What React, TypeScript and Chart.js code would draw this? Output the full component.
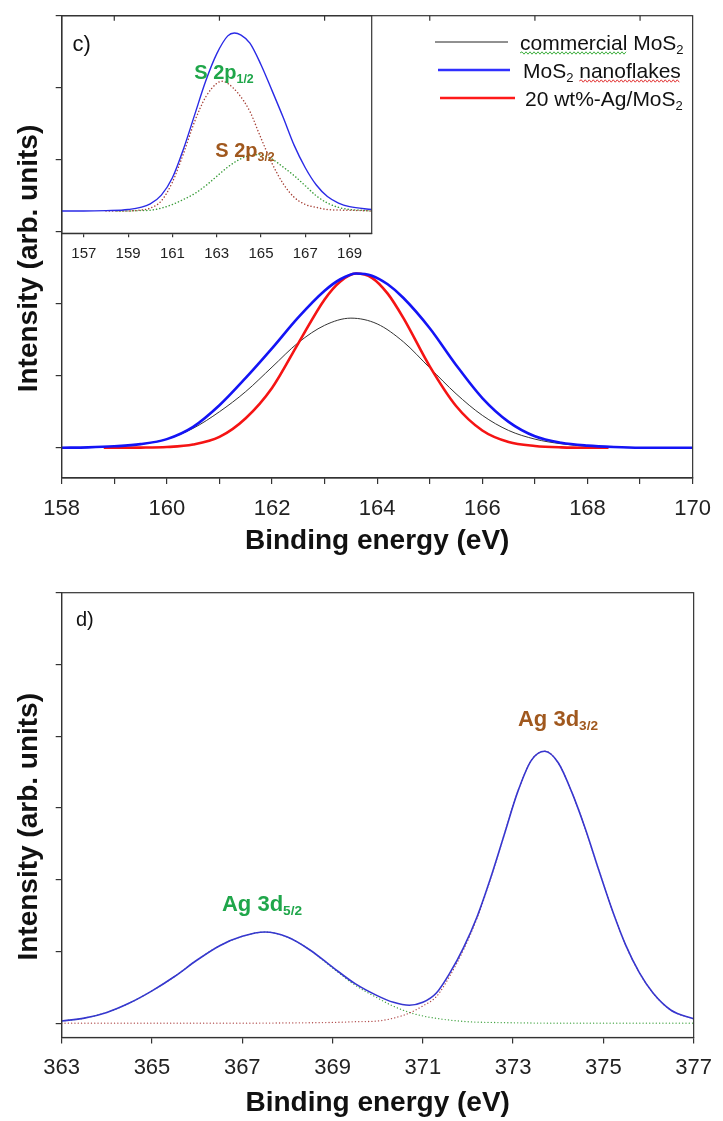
import React, { useEffect, useRef } from "react";
import { Chart, registerables } from "chart.js";

Chart.register(...registerables);

const FONT = '"Liberation Sans", Arial, Helvetica, sans-serif';
const AXIS = "#333333";

// ---------- Panel c (main): S 2p region ----------
const C_X_TICKS = [158, 159, 160, 161, 162, 163, 164, 165, 166, 167, 168, 169, 170];
const C_TOP_TICKS = [159, 161, 163, 165, 167, 169];
const C_Y_TICKS = [0, 1, 2, 3, 4, 5, 6];

const C_X_BLUE = [158, 158.5, 159, 159.5, 160, 160.5, 161, 161.5, 162, 162.5, 163, 163.3, 163.6, 163.9, 164.2, 164.5, 165, 165.5, 166, 166.5, 167, 167.5, 168, 168.5, 169, 170];
const C_Y_BLUE = [0, 0.005, 0.02, 0.05, 0.12, 0.29, 0.59, 0.97, 1.38, 1.81, 2.18, 2.34, 2.42, 2.39, 2.27, 2.08, 1.66, 1.15, 0.69, 0.36, 0.16, 0.07, 0.03, 0.01, 0, 0];

const C_X_BLACK = [158, 158.5, 159, 159.5, 160, 160.5, 161, 161.5, 162, 162.5, 163, 163.5, 164, 164.5, 165, 165.5, 166, 166.5, 167, 167.5, 168, 168.5, 169, 170];
const C_Y_BLACK = [0, 0.005, 0.02, 0.05, 0.12, 0.27, 0.50, 0.78, 1.12, 1.46, 1.70, 1.80, 1.72, 1.47, 1.11, 0.75, 0.45, 0.24, 0.12, 0.055, 0.02, 0.007, 0, 0];

const C_X_RED = [158.8, 159.5, 160, 160.5, 161, 161.5, 162, 162.5, 163, 163.3, 163.6, 163.9, 164.2, 164.5, 165, 165.5, 166, 166.5, 167, 167.5, 168, 168.4];
const C_Y_RED = [0, 0.002, 0.01, 0.045, 0.15, 0.41, 0.83, 1.45, 2.06, 2.31, 2.42, 2.36, 2.14, 1.80, 1.13, 0.58, 0.24, 0.08, 0.025, 0.005, 0, 0];

// ---------- Inset: fitted S 2p components ----------
const IN_X_TICKS = [157, 159, 161, 163, 165, 167, 169];

const IN_X_SUM = [156, 157, 158, 159, 160, 160.5, 161, 161.5, 162, 162.5, 163, 163.5, 163.8, 164.1, 164.5, 165, 165.5, 166, 166.5, 167, 167.5, 168, 168.5, 169, 170];
const IN_Y_SUM = [0, 0, 0.005, 0.02, 0.10, 0.22, 0.46, 0.86, 1.33, 1.80, 2.18, 2.43, 2.47, 2.44, 2.33, 2.03, 1.67, 1.30, 0.91, 0.60, 0.36, 0.20, 0.11, 0.06, 0.02];

const IN_X_P12 = [158, 159, 159.5, 160, 160.5, 161, 161.5, 162, 162.5, 163, 163.25, 163.5, 164, 164.5, 165, 165.5, 166, 166.5, 167, 167.5, 168, 169, 170];
const IN_Y_P12 = [0, 0, 0.01, 0.04, 0.14, 0.40, 0.80, 1.24, 1.58, 1.77, 1.80, 1.77, 1.62, 1.38, 1.01, 0.66, 0.38, 0.19, 0.09, 0.05, 0.02, 0.01, 0];

const IN_X_P32 = [158.5, 159, 159.5, 160, 160.5, 161, 161.5, 162, 162.5, 163, 163.5, 164, 164.5, 164.9, 165.5, 166, 166.5, 167, 167.5, 168, 168.5, 169, 169.5, 170];
const IN_Y_P32 = [0, 0, 0.005, 0.01, 0.04, 0.09, 0.16, 0.24, 0.35, 0.48, 0.61, 0.71, 0.77, 0.78, 0.72, 0.61, 0.49, 0.35, 0.21, 0.11, 0.05, 0.02, 0.01, 0];

// ---------- Panel d: Ag 3d region ----------
const D_X_TICKS = [363, 365, 367, 369, 371, 373, 375, 377];
const D_Y_TICKS = [0, 1, 2, 3, 4, 5, 6];

const D_X_SUM = [363, 363.5, 364, 364.5, 365, 365.5, 366, 366.5, 367, 367.5, 368, 368.5, 369, 369.5, 370, 370.35, 370.7, 371, 371.3, 371.6, 371.9, 372.2, 372.5, 372.8, 373.1, 373.4, 373.7, 374, 374.3, 374.6, 374.9, 375.2, 375.5, 375.8, 376.1, 376.5, 377];
const D_Y_SUM = [0.03, 0.07, 0.15, 0.28, 0.45, 0.65, 0.88, 1.08, 1.21, 1.27, 1.20, 1.02, 0.78, 0.55, 0.38, 0.29, 0.25, 0.29, 0.42, 0.70, 1.05, 1.48, 2.02, 2.62, 3.22, 3.66, 3.79, 3.63, 3.22, 2.71, 2.13, 1.57, 1.08, 0.70, 0.42, 0.18, 0.06];

const D_X_52 = [363, 363.5, 364, 364.5, 365, 365.5, 366, 366.5, 367, 367.5, 368, 368.5, 369, 369.5, 370, 370.3, 370.7, 371, 371.5, 372, 372.5, 373, 374, 375, 376, 377];
const D_Y_52 = [0.03, 0.07, 0.15, 0.28, 0.45, 0.65, 0.88, 1.08, 1.21, 1.27, 1.20, 1.02, 0.77, 0.53, 0.35, 0.25, 0.15, 0.10, 0.05, 0.02, 0.01, 0.005, 0, 0, 0, 0];

const D_X_32 = [363, 364, 365, 366, 367, 368, 369, 369.5, 370, 370.35, 370.7, 371, 371.3, 371.6, 371.9, 372.2, 372.5, 372.8, 373.1, 373.4, 373.7, 374, 374.3, 374.6, 374.9, 375.2, 375.5, 375.8, 376.1, 376.5, 377];
const D_Y_32 = [0, 0, 0, 0, 0, 0.003, 0.01, 0.02, 0.03, 0.07, 0.14, 0.24, 0.37, 0.66, 1.02, 1.46, 2.01, 2.62, 3.22, 3.66, 3.79, 3.63, 3.22, 2.71, 2.13, 1.57, 1.08, 0.70, 0.42, 0.18, 0.06];

type Part = { t: string; sub?: boolean };

const LEGEND_PARTS: Part[][] = [
  [{ t: "commercial MoS" }, { t: "2", sub: true }],
  [{ t: "MoS" }, { t: "2", sub: true }, { t: " nanoflakes" }],
  [{ t: "20 wt%-Ag/MoS" }, { t: "2", sub: true }],
];
const LABEL_S12: Part[] = [{ t: "S 2p" }, { t: "1/2", sub: true }];
const LABEL_S32: Part[] = [{ t: "S 2p" }, { t: "3/2", sub: true }];
const LABEL_AG52: Part[] = [{ t: "Ag 3d" }, { t: "5/2", sub: true }];
const LABEL_AG32: Part[] = [{ t: "Ag 3d" }, { t: "3/2", sub: true }];

const pts = (xs: number[], ys: number[]) => xs.map((x, i) => ({ x, y: ys[i] }));

function partFont(p: Part, size: number, weight: string) {
  return `${weight} ${p.sub ? size * 0.62 : size}px ${FONT}`;
}
function richWidth(ctx: CanvasRenderingContext2D, parts: Part[], size: number, weight: string) {
  let w = 0;
  for (const p of parts) {
    ctx.font = partFont(p, size, weight);
    w += ctx.measureText(p.t).width;
  }
  return w;
}
function drawRich(ctx: CanvasRenderingContext2D, parts: Part[], x: number, baseline: number, size: number, weight: string, color: string, align: "left" | "center") {
  ctx.save();
  ctx.fillStyle = color;
  ctx.textAlign = "left";
  ctx.textBaseline = "alphabetic";
  const total = richWidth(ctx, parts, size, weight);
  let cx = align === "center" ? x - total / 2 : x;
  for (const p of parts) {
    ctx.font = partFont(p, size, weight);
    ctx.fillText(p.t, cx, p.sub ? baseline + size * 0.2 : baseline);
    cx += ctx.measureText(p.t).width;
  }
  ctx.restore();
  return total;
}
function squiggle(ctx: CanvasRenderingContext2D, x0: number, x1: number, y: number, color: string) {
  ctx.save();
  ctx.strokeStyle = color;
  ctx.lineWidth = 1;
  ctx.beginPath();
  let up = true;
  ctx.moveTo(x0, y);
  for (let x = x0 + 2; x <= x1; x += 2) {
    ctx.lineTo(x, up ? y - 1.2 : y + 1.2);
    up = !up;
  }
  ctx.stroke();
  ctx.restore();
}

function frame(chart: any) {
  const { ctx, chartArea: a } = chart;
  ctx.save();
  ctx.strokeStyle = AXIS;
  ctx.lineWidth = 1.2;
  ctx.strokeRect(a.left, a.top, a.right - a.left, a.bottom - a.top);
  ctx.restore();
}

const cDecor = {
  id: "cDecor",
  afterDraw(chart: any) {
    frame(chart);
    const { ctx, chartArea: a } = chart;
    const xs = chart.scales.x;
    ctx.save();
    ctx.strokeStyle = AXIS;
    ctx.lineWidth = 1.2;
    for (const v of C_TOP_TICKS) {
      const px = xs.getPixelForValue(v);
      ctx.beginPath();
      ctx.moveTo(px, a.top);
      ctx.lineTo(px, a.top + 5);
      ctx.stroke();
    }
    // legend
    const rows = [
      { y: 42, x0: 435, x1: 508, tx: 520, base: 49.5, color: "#222222", lw: 1 },
      { y: 70, x0: 438, x1: 510, tx: 523, base: 77.5, color: "#3030ff", lw: 2.6 },
      { y: 98, x0: 440, x1: 515, tx: 525, base: 105.5, color: "#ff1a1a", lw: 2.6 },
    ];
    rows.forEach((r, i) => {
      ctx.strokeStyle = r.color;
      ctx.lineWidth = r.lw;
      ctx.beginPath();
      ctx.moveTo(r.x0, r.y);
      ctx.lineTo(r.x1, r.y);
      ctx.stroke();
      drawRich(ctx, LEGEND_PARTS[i], r.tx, r.base, 21, "normal", "#111111", "left");
    });
    // spell-check style underlines seen in the source figure
    ctx.font = `normal 21px ${FONT}`;
    const wComm = ctx.measureText("commercial").width;
    squiggle(ctx, rows[0].tx, rows[0].tx + wComm, rows[0].base + 3.5, "#3fae3f");
    const wMo = ctx.measureText("MoS").width;
    ctx.font = `normal ${21 * 0.62}px ${FONT}`;
    const w2 = ctx.measureText("2").width;
    ctx.font = `normal 21px ${FONT}`;
    const wSp = ctx.measureText(" ").width;
    const wNano = ctx.measureText("nanoflakes").width;
    const nx = rows[1].tx + wMo + w2 + wSp;
    squiggle(ctx, nx, nx + wNano, rows[1].base + 3.5, "#e03030");
    ctx.restore();
  },
};

const insetDecor = {
  id: "insetDecor",
  afterDraw(chart: any) {
    frame(chart);
    const { ctx } = chart;
    drawRich(ctx, [{ t: "c)" }], 72.5, 50.5, 22, "normal", "#111111", "left");
    drawRich(ctx, LABEL_S12, 224, 78.5, 20, "bold", "#1fa64a", "center");
    drawRich(ctx, LABEL_S32, 245, 156.5, 20, "bold", "#a0581e", "center");
  },
};

const dDecor = {
  id: "dDecor",
  afterDraw(chart: any) {
    frame(chart);
    const { ctx } = chart;
    drawRich(ctx, [{ t: "d)" }], 76, 65.5, 20, "normal", "#111111", "left");
    drawRich(ctx, LABEL_AG32, 558, 166, 22, "bold", "#a0581e", "center");
    drawRich(ctx, LABEL_AG52, 262, 351, 22, "bold", "#1fa64a", "center");
  },
};

const tickFont = (size: number) => ({ family: FONT, size, lineHeight: 1.2 });
const titleFont = { family: FONT, size: 28, weight: "bold" as const, lineHeight: 1 };
const Y_TITLE = "Intensity (arb. units)\u00a0\u00a0\u00a0";

function xScale(min: number, max: number, ticks: number[], labelFn: (v: number) => string, height: number, fontSize: number, pad: number, tickLen: number, title: any) {
  return {
    type: "linear",
    min,
    max,
    afterBuildTicks: (s: any) => {
      s.ticks = ticks.map((v) => ({ value: v }));
    },
    afterFit: (s: any) => {
      s.height = height;
    },
    ticks: {
      autoSkip: false,
      maxRotation: 0,
      minRotation: 0,
      padding: pad,
      color: "#222222",
      font: tickFont(fontSize),
      callback: (v: any) => labelFn(Number(v)),
    },
    grid: { drawOnChartArea: false, drawTicks: true, tickLength: tickLen, color: AXIS, lineWidth: 1.2 },
    border: { display: true, color: AXIS, width: 1.2 },
    title,
  };
}

function yScale(min: number, max: number, ticks: number[]) {
  return {
    type: "linear",
    min,
    max,
    afterBuildTicks: (s: any) => {
      s.ticks = ticks.map((v) => ({ value: v }));
    },
    afterFit: (s: any) => {
      s.width = 61.7;
    },
    ticks: { callback: () => "", padding: 0 },
    grid: { drawOnChartArea: false, drawTicks: true, tickLength: 6, color: AXIS, lineWidth: 1.2 },
    border: { display: true, color: AXIS, width: 1.2 },
    title: { display: true, text: Y_TITLE, color: "#111111", font: titleFont, padding: { top: 15, bottom: 0 } },
  };
}

const lineEl = { tension: 0.4, cubicInterpolationMode: "monotone", fill: false };
const dotted = { borderDash: [0.1, 3.2], borderCapStyle: "round" };

export default function App() {
  const cRef = useRef<HTMLCanvasElement>(null);
  const insetRef = useRef<HTMLCanvasElement>(null);
  const dRef = useRef<HTMLCanvasElement>(null);

  useEffect(() => {
    const charts: Chart[] = [];

    charts.push(
      new Chart(cRef.current as HTMLCanvasElement, {
        type: "line",
        data: {
          datasets: [
            { label: "MoS2 nanoflakes", data: pts(C_X_BLUE, C_Y_BLUE), borderColor: "#1414f5", borderWidth: 2.6, order: 1 },
            { label: "20 wt%-Ag/MoS2", data: pts(C_X_RED, C_Y_RED), borderColor: "#f51414", borderWidth: 2.6, order: 2 },
            { label: "commercial MoS2", data: pts(C_X_BLACK, C_Y_BLACK), borderColor: "#333333", borderWidth: 1, order: 3 },
          ],
        },
        options: {
          responsive: false,
          animation: false,
          layout: { padding: { top: 15.7, right: 26.5, left: 0, bottom: 0 } },
          elements: { point: { radius: 0 }, line: lineEl as any },
          plugins: { legend: { display: false }, tooltip: { enabled: false } },
          scales: {
            x: xScale(158, 170, C_X_TICKS, (v) => (v % 2 === 0 ? String(v) : ""), 82, 22, 12, 6, {
              display: true,
              text: "Binding energy (eV)",
              color: "#111111",
              font: titleFont,
              padding: { top: 0, bottom: 5 },
            }),
            y: yScale(-0.42, 6, C_Y_TICKS),
          } as any,
        },
        plugins: [cDecor],
      } as any)
    );

    charts.push(
      new Chart(insetRef.current as HTMLCanvasElement, {
        type: "line",
        data: {
          datasets: [
            { label: "envelope", data: pts(IN_X_SUM, IN_Y_SUM), borderColor: "#2a2ae6", borderWidth: 1.4, order: 1 },
            { label: "S 2p1/2", data: pts(IN_X_P12, IN_Y_P12), borderColor: "#a8443a", borderWidth: 1.5, ...dotted, order: 2 },
            { label: "S 2p3/2", data: pts(IN_X_P32, IN_Y_P32), borderColor: "#3d9e3d", borderWidth: 1.5, ...dotted, order: 3 },
          ],
        },
        options: {
          responsive: false,
          animation: false,
          layout: { padding: { top: 15.7, right: 8.3, left: 61.7, bottom: 0 } },
          elements: { point: { radius: 0 }, line: lineEl as any },
          plugins: { legend: { display: false }, tooltip: { enabled: false } },
          scales: {
            x: xScale(156, 170, IN_X_TICKS, (v) => String(v), 36.7, 15, 8, 4, { display: false }),
            y: { type: "linear", display: false, min: -0.31, max: 2.71 },
          } as any,
        },
        plugins: [insetDecor],
      } as any)
    );

    charts.push(
      new Chart(dRef.current as HTMLCanvasElement, {
        type: "line",
        data: {
          datasets: [
            { label: "envelope", data: pts(D_X_SUM, D_Y_SUM), borderColor: "#3636d0", borderWidth: 1.6, order: 1 },
            { label: "Ag 3d3/2", data: pts(D_X_32, D_Y_32), borderColor: "#b04a4a", borderWidth: 1.3, ...dotted, order: 2 },
            { label: "Ag 3d5/2", data: pts(D_X_52, D_Y_52), borderColor: "#45a545", borderWidth: 1.3, ...dotted, order: 3 },
          ],
        },
        options: {
          responsive: false,
          animation: false,
          layout: { padding: { top: 32.7, right: 19, left: 0, bottom: 0 } },
          elements: { point: { radius: 0 }, line: lineEl as any },
          plugins: { legend: { display: false }, tooltip: { enabled: false } },
          scales: {
            x: xScale(363, 377, D_X_TICKS, (v) => String(v), 83.5, 22, 11, 6, {
              display: true,
              text: "Binding energy (eV)",
              color: "#111111",
              font: titleFont,
              padding: { top: 0, bottom: 4 },
            }),
            y: yScale(-0.2, 6, D_Y_TICKS),
          } as any,
        },
        plugins: [dDecor],
      } as any)
    );

    return () => charts.forEach((c) => c.destroy());
  }, []);

  return (
    <div style={{ position: "absolute", left: 0, top: 0, width: 723, height: 1121, background: "#ffffff", overflow: "hidden" }}>
      <canvas ref={cRef} width={723} height={560} style={{ position: "absolute", left: 0, top: 0 }} />
      <canvas ref={insetRef} width={380} height={270} style={{ position: "absolute", left: 0, top: 0 }} />
      <canvas ref={dRef} width={723} height={561} style={{ position: "absolute", left: 0, top: 560 }} />
    </div>
  );
}
